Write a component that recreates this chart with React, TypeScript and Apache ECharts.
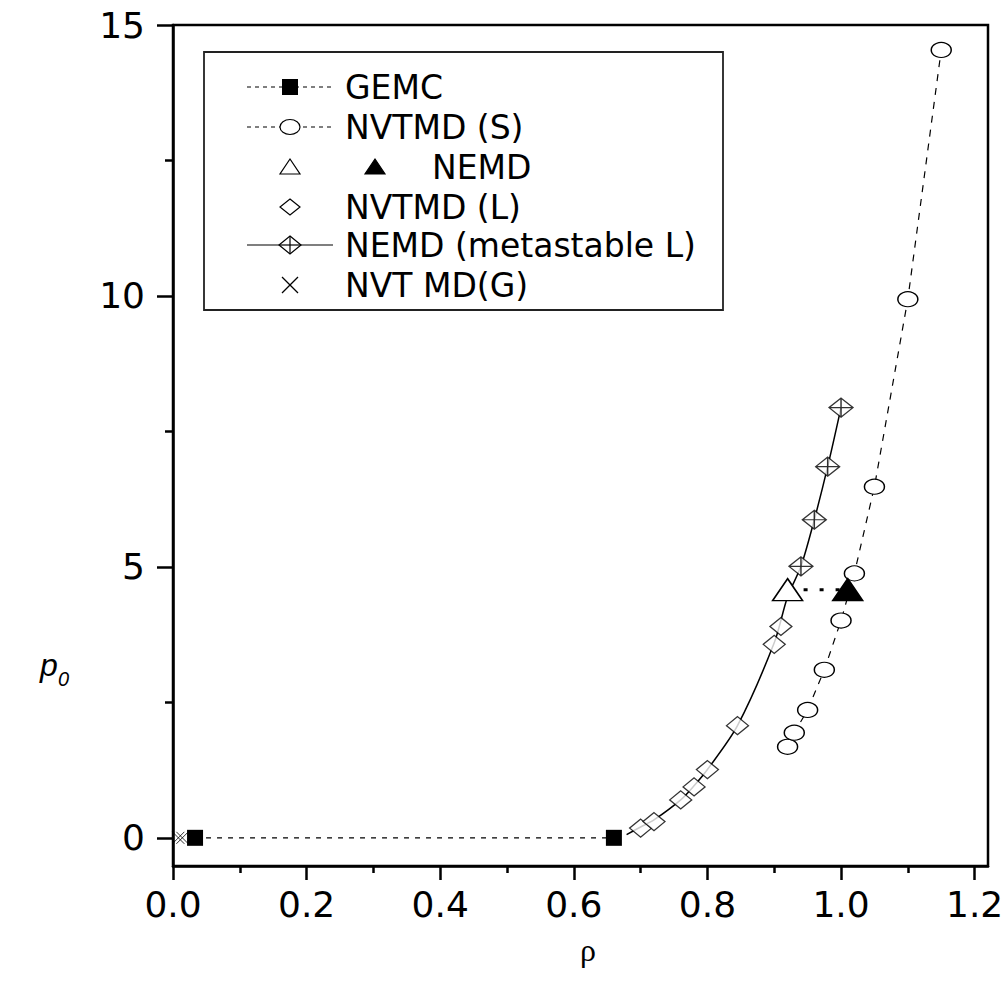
import React, { useEffect, useRef } from "react";
import * as echarts from "echarts";

// ---- data ----
const gemcX = [0.033, 0.66];
const gemcY = [0, 0];
const nvtmdSX = [0.92, 0.93, 0.95, 0.975, 1.0, 1.02, 1.05, 1.1, 1.15];
const nvtmdSY = [1.68, 1.94, 2.36, 3.1, 4.01, 4.88, 6.48, 9.94, 14.54];
const nemdX = [0.92, 1.01];
const nemdY = [4.58, 4.58];
const nvtmdLX = [0.7, 0.72, 0.76, 0.78, 0.8, 0.845, 0.9, 0.91];
const nvtmdLY = [0.18, 0.3, 0.7, 0.94, 1.26, 2.07, 3.57, 3.9];
const metaX = [0.94, 0.96, 0.98, 1.0];
const metaY = [5.01, 5.87, 6.85, 7.94];
const curveX = [0.679, 0.7, 0.72, 0.76, 0.78, 0.8, 0.845, 0.9, 0.92, 0.94, 0.96, 0.98, 1.0];
const curveY = [0.06, 0.2, 0.33, 0.7, 0.96, 1.26, 2.07, 3.6, 4.45, 5.01, 5.87, 6.85, 7.94];
const crossX = [0.008, 0.014];
const crossY = [0, 0];

const xMajor = [0, 0.2, 0.4, 0.6, 0.8, 1.0, 1.2];
const xMinor = [0.1, 0.3, 0.5, 0.7, 0.9, 1.1];
const yMajor = [0, 5, 10, 15];
const yMinor = [2.5, 7.5, 12.5];

const legendNames = [
  "GEMC",
  "NVTMD (S)",
  "NEMD",
  "NVTMD (L)",
  "NEMD (metastable L)",
  "NVT MD(G)",
];

const zip = (xs: number[], ys: number[]) => xs.map((x, i) => [x, ys[i]]);

const FONT = "DejaVu Sans";

export default function App() {
  const ref = useRef<HTMLDivElement>(null);
  useEffect(() => {
    document.body.style.margin = "0";
    const chart = echarts.init(ref.current!, null, { renderer: "svg" });

    const black = "#000";
    const axisCommon = {
      type: "value",
      splitLine: { show: false },
    };

    const rowsY = [87, 127, 167, 207, 245, 285];
    const lx0 = 247, lx1 = 333, sx = 290, tx = 345;
    const txt = (text: string, x: number, y: number) => ({
      type: "text",
      x,
      y,
      style: {
        text,
        fontSize: 33,
        fontFamily: FONT,
        fill: black,
        align: "left",
        verticalAlign: "middle",
        textAlign: "left",
        textVerticalAlign: "middle",
      },
    });
    const hline = (y: number, dash: any) => ({
      type: "line",
      shape: { x1: lx0, y1: y, x2: lx1, y2: y },
      style: { stroke: black, lineWidth: 1.2, lineDash: dash },
    });
    const diamond = (cx: number, cy: number, w: number, h: number) => [
      [cx, cy - h / 2],
      [cx + w / 2, cy],
      [cx, cy + h / 2],
      [cx - w / 2, cy],
    ];

    const graphic: any[] = [
      {
        type: "rect",
        shape: { x: 204, y: 52, width: 519, height: 258 },
        style: { fill: "#fff", stroke: "#222", lineWidth: 1.8 },
        z: 10,
      },
      // row 0 GEMC
      hline(rowsY[0], [4, 4]),
      { type: "rect", shape: { x: sx - 8, y: rowsY[0] - 8, width: 16, height: 16 }, style: { fill: black } },
      txt(legendNames[0], tx, rowsY[0]),
      // row 1 NVTMD (S)
      hline(rowsY[1], [4, 4]),
      { type: "ellipse", shape: { cx: sx, cy: rowsY[1], rx: 10, ry: 7.5 }, style: { fill: "#fff", stroke: black, lineWidth: 1.2 } },
      txt(legendNames[1], tx, rowsY[1]),
      // row 2 NEMD
      {
        type: "polygon",
        shape: { points: [[sx - 10, rowsY[2] + 7], [sx + 10, rowsY[2] + 7], [sx, rowsY[2] - 8]] },
        style: { fill: "#fff", stroke: black, lineWidth: 1.2 },
      },
      {
        type: "polygon",
        shape: { points: [[365, rowsY[2] + 7], [385, rowsY[2] + 7], [375, rowsY[2] - 8]] },
        style: { fill: black, stroke: black, lineWidth: 1.2 },
      },
      txt(legendNames[2], 432, rowsY[2]),
      // row 3 NVTMD (L)
      {
        type: "polygon",
        shape: { points: diamond(sx, rowsY[3], 20, 16) },
        style: { fill: "#fff", stroke: black, lineWidth: 1.2 },
      },
      txt(legendNames[3], tx, rowsY[3]),
      // row 4 NEMD metastable
      hline(rowsY[4], null),
      {
        type: "polygon",
        shape: { points: diamond(sx, rowsY[4], 22, 18) },
        style: { fill: "#fff", stroke: black, lineWidth: 1.2 },
      },
      { type: "line", shape: { x1: sx, y1: rowsY[4] - 9, x2: sx, y2: rowsY[4] + 9 }, style: { stroke: black, lineWidth: 1.2 } },
      { type: "line", shape: { x1: sx - 11, y1: rowsY[4], x2: sx + 11, y2: rowsY[4] }, style: { stroke: black, lineWidth: 1.2 } },
      txt(legendNames[4], tx, rowsY[4]),
      // row 5 NVT MD(G)
      { type: "line", shape: { x1: sx - 8, y1: rowsY[5] - 8, x2: sx + 8, y2: rowsY[5] + 8 }, style: { stroke: black, lineWidth: 1.2 } },
      { type: "line", shape: { x1: sx - 8, y1: rowsY[5] + 8, x2: sx + 8, y2: rowsY[5] - 8 }, style: { stroke: black, lineWidth: 1.2 } },
      txt(legendNames[5], tx, rowsY[5]),
      // axis names
      {
        type: "text",
        x: 588,
        y: 950,
        style: {
          text: "ρ",
          fontSize: 32,
          fontFamily: "Liberation Serif",
          fill: black,
          align: "center",
          verticalAlign: "middle",
          textAlign: "center",
          textVerticalAlign: "middle",
        },
      },
      {
        type: "text",
        x: 40,
        y: 665,
        style: {
          text: "p",
          fontSize: 32,
          fontStyle: "italic",
          fontFamily: "Liberation Sans",
          fill: black,
          align: "left",
          verticalAlign: "middle",
          textAlign: "left",
          textVerticalAlign: "middle",
        },
      },
      {
        type: "text",
        x: 58,
        y: 679,
        style: {
          text: "0",
          fontSize: 20,
          fontStyle: "italic",
          fontFamily: "Liberation Sans",
          fill: black,
          align: "left",
          verticalAlign: "middle",
          textAlign: "left",
          textVerticalAlign: "middle",
        },
      },
    ];
    // put legend items above box
    graphic.forEach((g, i) => {
      if (i > 0 && g.z === undefined) g.z = 11;
    });

    const option: any = {
      animation: false,
      backgroundColor: "#fff",
      grid: {
        left: 173,
        top: 25,
        right: 19,
        bottom: 122,
        show: true,
        borderColor: black,
        borderWidth: 2.5,
        backgroundColor: "transparent",
      },
      xAxis: [
        {
          ...axisCommon,
          min: 0,
          max: 1.22,
          position: "bottom",
          axisLine: { onZero: false, lineStyle: { color: black, width: 2.5 } },
          axisTick: { customValues: xMajor, length: 14, lineStyle: { color: black, width: 2.5 } },
          axisLabel: {
            customValues: xMajor,
            formatter: (v: number) => v.toFixed(1),
            fontSize: 36,
            fontFamily: FONT,
            color: black,
            margin: 20,
          },
        },
        {
          ...axisCommon,
          min: 0,
          max: 1.22,
          position: "bottom",
          axisLine: { show: false, onZero: false },
          axisTick: { customValues: xMinor, length: 7, lineStyle: { color: black, width: 2.5 } },
          axisLabel: { show: false },
        },
      ],
      yAxis: [
        {
          ...axisCommon,
          min: -0.52,
          max: 15,
          position: "left",
          axisLine: { onZero: false, lineStyle: { color: black, width: 2.5 } },
          axisTick: { customValues: yMajor, length: 16, lineStyle: { color: black, width: 2.5 } },
          axisLabel: {
            customValues: yMajor,
            fontSize: 36,
            fontFamily: FONT,
            color: black,
            margin: 28,
          },
        },
        {
          ...axisCommon,
          min: -0.52,
          max: 15,
          position: "left",
          axisLine: { show: false, onZero: false },
          axisTick: { customValues: yMinor, length: 8, lineStyle: { color: black, width: 2.5 } },
          axisLabel: { show: false },
        },
      ],
      graphic,
      series: [
        {
          name: "curve",
          type: "line",
          data: zip(curveX, curveY),
          smooth: 0.3,
          showSymbol: false,
          symbol: "none",
          lineStyle: { color: black, width: 1.5 },
          z: 2,
        },
        {
          name: legendNames[0],
          type: "line",
          data: zip(gemcX, gemcY),
          symbol: "rect",
          symbolSize: 16,
          itemStyle: { color: black },
          lineStyle: { color: black, width: 1.2, type: [5, 6] },
          z: 3,
        },
        {
          name: legendNames[1],
          type: "line",
          data: zip(nvtmdSX, nvtmdSY),
          symbol: "circle",
          symbolSize: [20, 15],
          itemStyle: { color: "#fff", borderColor: black, borderWidth: 1.3 },
          lineStyle: { color: black, width: 1.2, type: [7, 7] },
          z: 3,
        },
        {
          name: legendNames[2],
          type: "line",
          data: [
            { value: [nemdX[0], nemdY[0]], itemStyle: { color: "#fff", borderColor: black, borderWidth: 1.5 } },
            { value: [nemdX[1], nemdY[1]], itemStyle: { color: black, borderColor: black, borderWidth: 1.5 } },
          ],
          symbol: "triangle",
          symbolSize: [30, 22],
          lineStyle: { color: black, width: 3, type: [4, 12] },
          z: 4,
        },
        {
          name: legendNames[3],
          type: "scatter",
          data: zip(nvtmdLX, nvtmdLY),
          symbol: "diamond",
          symbolSize: [22, 18],
          itemStyle: { color: "#fff", borderColor: black, borderWidth: 1.3 },
          z: 3,
        },
        {
          name: legendNames[4],
          type: "scatter",
          data: zip(metaX, metaY),
          symbol: "path://M0,-10 L12,0 L0,10 L-12,0 Z M0,-10 L0,10 M-12,0 L12,0",
          symbolSize: [24, 19],
          itemStyle: { color: "#fff", borderColor: black, borderWidth: 1.3 },
          z: 4,
        },
        {
          name: legendNames[5],
          type: "scatter",
          data: zip(crossX, crossY),
          symbol: "path://M-1,-1 L1,1 M-1,1 L1,-1",
          symbolSize: 12,
          clip: false,
          itemStyle: { color: "transparent", borderColor: black, borderWidth: 1 },
          z: 4,
        },
      ],
    };
    chart.setOption(option);
    return () => chart.dispose();
  }, []);
  return <div ref={ref} style={{ width: 1007, height: 988 }} />;
}
